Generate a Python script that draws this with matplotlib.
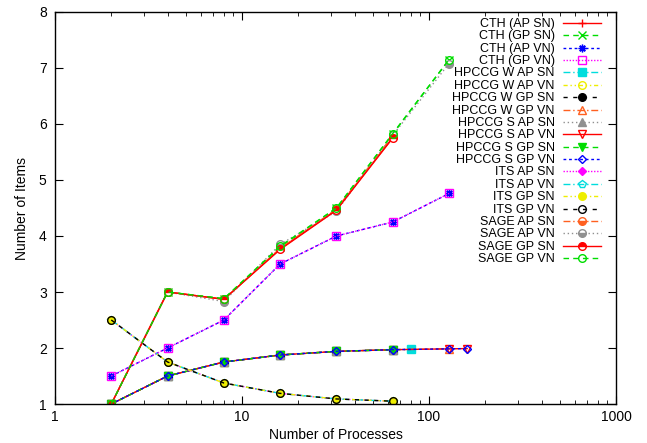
import matplotlib
matplotlib.use("Agg")
import matplotlib.pyplot as plt
from matplotlib.ticker import LogLocator, FixedLocator, NullFormatter, FuncFormatter

plt.rcParams['font.family'] = ['Liberation Sans', 'DejaVu Sans']

# process counts
procs = [2, 4, 8, 16, 32, 64, 128]
procs_64 = [2, 4, 8, 16, 32, 64]
procs_80 = [2, 4, 8, 16, 32, 64, 80]
procs_160 = [2, 4, 8, 16, 32, 64, 128, 160]

# CTH
cth_ap_sn = [1, 3, 2.87, 3.77, 4.47, 5.76]
cth_gp_sn = [1, 3, 2.88, 3.80, 4.50, 5.82, 7.15]
cth_ap_vn = [1.5, 2, 2.5, 3.5, 4.0, 4.25, 4.76]
cth_gp_vn = [1.5, 2, 2.5, 3.5, 4.0, 4.25, 4.76]

# HPCCG
hpccg_w_ap_sn = [1, 1.5, 1.75, 1.875, 1.94, 1.97, 1.975]
hpccg_w_ap_vn = [1, 1.5, 1.75, 1.875, 1.94, 1.97]
hpccg_w_gp_sn = [1, 1.5, 1.75, 1.875, 1.94, 1.97]
hpccg_w_gp_vn = [1, 1.5, 1.75, 1.875, 1.94, 1.97, 1.985]
hpccg_s_ap_sn = [1, 1.5, 1.75, 1.875, 1.94, 1.97]
hpccg_s_ap_vn = [1, 1.5, 1.75, 1.875, 1.94, 1.97, 1.985, 1.99]
hpccg_s_gp_sn = [1, 1.5, 1.75, 1.875, 1.94, 1.97]
hpccg_s_gp_vn = [1, 1.5, 1.75, 1.875, 1.94, 1.97, 1.985, 1.99]

# ITS
its_ap_sn = [2.5, 1.75, 1.375, 1.19, 1.09, 1.05]
its_ap_vn = [2.5, 1.75, 1.375, 1.19, 1.09, 1.05]
its_gp_sn = [2.5, 1.75, 1.375, 1.19, 1.09, 1.05]
its_gp_vn = [2.5, 1.75, 1.375, 1.19, 1.09, 1.05]

# SAGE
sage_ap_sn = [1, 3, 2.87, 3.78, 4.48, 5.79]
sage_ap_vn = [1, 3, 2.83, 3.85, 4.44, 5.80, 7.08]
sage_gp_sn = [1, 3, 2.87, 3.76, 4.46, 5.75]
sage_gp_vn = [1, 3, 2.88, 3.82, 4.50, 5.83, 7.15]

# gnuplot-like line types, cycling every 9
colors = ['#ff0000', '#00dd00', '#0000ff', '#ff00ff', '#00dddd',
          '#eeee00', '#000000', '#ff6020', '#909090']
dashes = ['-', (0, (4, 3)), (0, (2, 2)), (0, (1, 1.2)), (0, (5, 2, 1, 2)),
          (0, (3, 2, 1, 2, 1, 2)), (0, (3, 4)), (0, (5, 2, 1, 2)), (0, (1, 2))]

series = [
    ("CTH (AP SN)", procs_64, cth_ap_sn, '+', 'full'),
    ("CTH (GP SN)", procs, cth_gp_sn, 'x', 'full'),
    ("CTH (AP VN)", procs, cth_ap_vn, (8, 2, 0), 'full'),
    ("CTH (GP VN)", procs, cth_gp_vn, 's', 'none'),
    ("HPCCG W AP SN", procs_80, hpccg_w_ap_sn, 's', 'full'),
    ("HPCCG W AP VN", procs_64, hpccg_w_ap_vn, 'o', 'none'),
    ("HPCCG W GP SN", procs_64, hpccg_w_gp_sn, 'o', 'full'),
    ("HPCCG W GP VN", procs, hpccg_w_gp_vn, '^', 'none'),
    ("HPCCG S AP SN", procs_64, hpccg_s_ap_sn, '^', 'full'),
    ("HPCCG S AP VN", procs_160, hpccg_s_ap_vn, 'v', 'none'),
    ("HPCCG S GP SN", procs_64, hpccg_s_gp_sn, 'v', 'full'),
    ("HPCCG S GP VN", procs_160, hpccg_s_gp_vn, 'D', 'none'),
    ("ITS AP SN", procs_64, its_ap_sn, 'D', 'full'),
    ("ITS AP VN", procs_64, its_ap_vn, 'p', 'none'),
    ("ITS GP SN", procs_64, its_gp_sn, 'o', 'full'),
    ("ITS GP VN", procs_64, its_gp_vn, 'o', 'none'),
    ("SAGE AP SN", procs_64, sage_ap_sn, 'o', 'bottom'),
    ("SAGE AP VN", procs, sage_ap_vn, 'o', 'bottom'),
    ("SAGE GP SN", procs_64, sage_gp_sn, 'o', 'top'),
    ("SAGE GP VN", procs, sage_gp_vn, 'o', 'none'),
]

fig = plt.figure(figsize=(6.47, 4.43), dpi=100)
ax = fig.add_axes([55 / 647, 1 - 404 / 443, (616 - 55) / 647, (404 - 12) / 443])

for i, (label, x, y, mk, fill) in enumerate(series):
    c = colors[i % 9]
    ms = 5.5
    if mk in ('+', 'x'):
        ms = 6
    elif mk == 'D':
        ms = 4.5
    ax.plot(x, y, color=c, linestyle=dashes[i % 9], linewidth=1,
            marker=mk, markersize=ms, fillstyle=fill,
            markerfacecoloralt='white', markeredgecolor=c,
            markeredgewidth=1, label=label)

ax.set_xscale('log')
ax.set_xlim(1, 1000)
ax.set_ylim(1, 8)
ax.yaxis.set_major_locator(FixedLocator(range(1, 9)))
ax.xaxis.set_major_locator(LogLocator(base=10))
ax.xaxis.set_minor_locator(LogLocator(base=10, subs=range(2, 10)))
ax.xaxis.set_minor_formatter(NullFormatter())
ax.xaxis.set_major_formatter(FuncFormatter(lambda v, p: f"{v:g}"))

ax.tick_params(which='both', direction='in', top=True, right=True, labelsize=10)
ax.tick_params(axis='x', pad=4)
ax.tick_params(axis='y', pad=6)
ax.tick_params(which='major', length=6)
ax.tick_params(which='minor', length=3)
for s in ax.spines.values():
    s.set_linewidth(1)

ax.set_xlabel("Number of Processes", fontsize=10, labelpad=3)
ax.set_ylabel("Number of Items", fontsize=10, labelpad=7)

leg = ax.legend(loc='upper right', frameon=False, markerfirst=False,
                fontsize=9, labelspacing=0.03, handlelength=3.0,
                handleheight=0.5, handletextpad=0.7,
                bbox_to_anchor=(0.973, 0.985), borderaxespad=0, borderpad=0)
for t in leg.get_texts():
    t.set_ha('right')
leg._legend_box.align = 'right'

fig.savefig('out.png', dpi=100)
